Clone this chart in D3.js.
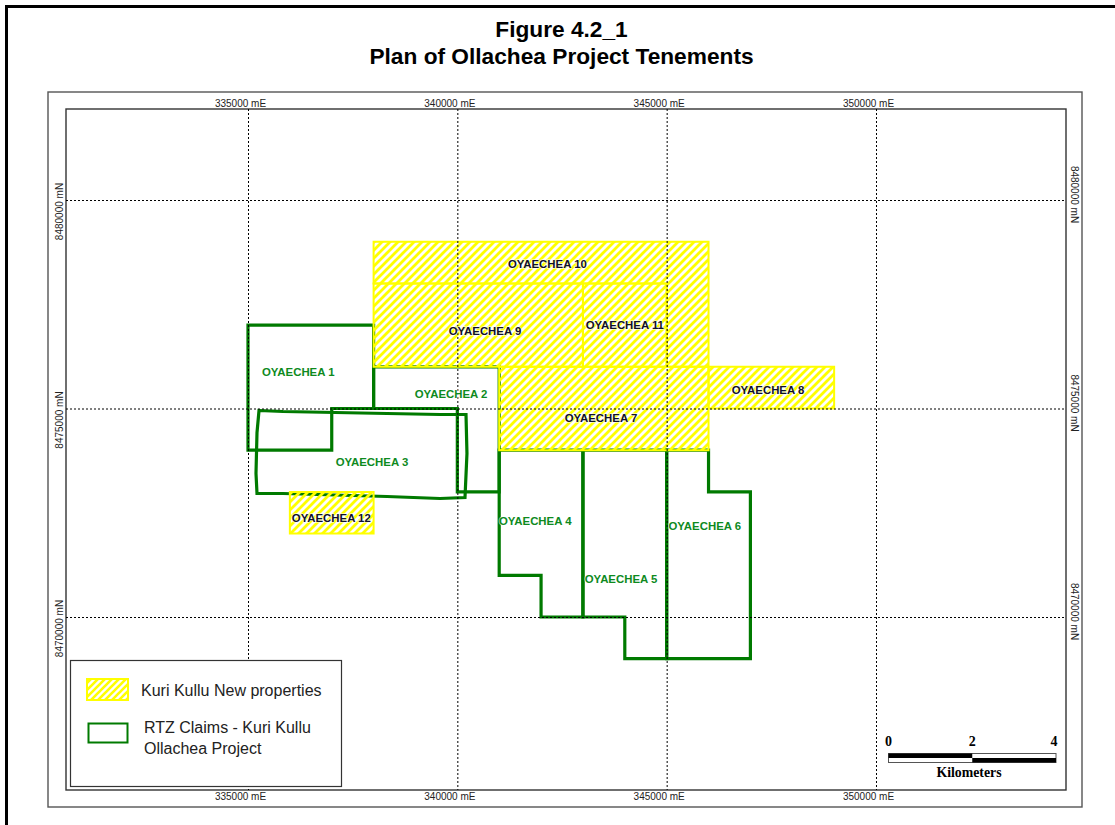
<!DOCTYPE html>
<html><head><meta charset="utf-8">
<script src="https://cdnjs.cloudflare.com/ajax/libs/d3/7.8.5/d3.min.js"></script>
<style>html,body{margin:0;padding:0;background:#fff;overflow:hidden}svg{display:block}</style>
</head><body><svg id="c" width="1115" height="825"></svg>
<script>
const titleLines=["Figure 4.2_1","Plan of Ollachea Project Tenements"];
const eastTicks=[335000,340000,345000,350000];
const northTicks=[8480000,8475000,8470000];
const claimNames=["OYAECHEA 1","OYAECHEA 2","OYAECHEA 3","OYAECHEA 4","OYAECHEA 5","OYAECHEA 6"];
const claimRings=[
 [[335000,8477000],[338000,8477000],[338000,8475000],[337000,8475000],[337000,8474000],[335000,8474000]],
 [[338000,8476000],[341000,8476000],[341000,8473000],[340000,8473000],[340000,8475000],[338000,8475000]],
 [[335263,8474952],[335836,8474928],[338320,8474880],[339586,8474856],[340207,8474856],[340230,8473921],[340183,8472866],[339586,8472842],[338320,8472890],[335836,8472962],[335215,8472962],[335191,8473441],[335215,8474424]],
 [[341000,8474000],[343000,8474000],[343000,8470000],[342000,8470000],[342000,8471000],[341000,8471000]],
 [[343000,8474000],[345000,8474000],[345000,8469000],[344000,8469000],[344000,8470000],[343000,8470000]],
 [[345000,8474000],[346000,8474000],[346000,8473000],[347000,8473000],[347000,8469000],[345000,8469000]]
];
const claimLabelE=[336200,339850,337960,341860,343910,345910];
const claimLabelN=[8475885,8475340,8473710,8472290,8470920,8472190];
const newNames=["OYAECHEA 7","OYAECHEA 8","OYAECHEA 9","OYAECHEA 10","OYAECHEA 11","OYAECHEA 12"];
const newRings=[
 [[341000,8476000],[346000,8476000],[346000,8474000],[341000,8474000]],
 [[346000,8476000],[349000,8476000],[349000,8475000],[346000,8475000]],
 [[338000,8478000],[343000,8478000],[343000,8476000],[338000,8476000]],
 [[338000,8479000],[346000,8479000],[346000,8476000],[345000,8476000],[345000,8478000],[338000,8478000]],
 [[343000,8478000],[345000,8478000],[345000,8476000],[343000,8476000]],
 [[336000,8473000],[338000,8473000],[338000,8472000],[336000,8472000]]
];
const newLabelE=[343430,347420,340660,342150,344000,336990];
const newLabelN=[8474770,8475455,8476860,8478470,8477000,8472380];
const legendLabels=["Kuri Kullu New properties","RTZ Claims - Kuri Kullu","Ollachea Project"];
const scaleLabels=["0","2","4"];
const scaleKm=[0,2,4];

const GREEN="#007a00",YEL="#ffff00";
const svg=d3.select("#c");
const x=d3.scaleLinear().domain([335000,350000]).range([248,876]);
const y=d3.scaleLinear().domain([8480000,8470000]).range([200,617]);
const line=d3.line().x(d=>x(d[0])).y(d=>y(d[1])).curve(d3.curveLinearClosed);

const defs=svg.append("defs");
const pat=defs.append("pattern").attr("id","hatch").attr("patternUnits","userSpaceOnUse")
 .attr("width",8).attr("height",8);
pat.append("path").attr("d","M-2,2 L2,-2 M-2,10 L10,-2 M6,10 L10,6").attr("stroke",YEL).attr("stroke-width",2.8).attr("fill","none");
const pat2=defs.append("pattern").attr("id","hatchL").attr("patternUnits","userSpaceOnUse")
 .attr("width",7).attr("height",7);
pat2.append("path").attr("d","M-2,2 L2,-2 M-2,9 L9,-2 M5,9 L9,5").attr("stroke",YEL).attr("stroke-width",2.6).attr("fill","none");

svg.append("path").attr("d","M6.5,825V6.5H1115").attr("fill","none").attr("stroke","#000").attr("stroke-width",3);
svg.append("rect").attr("x",48).attr("y",92).attr("width",1034).attr("height",715).attr("fill","#fff").attr("stroke","#555").attr("stroke-width",1.4);
svg.append("rect").attr("x",66).attr("y",109).attr("width",1000).attr("height",681).attr("fill","#fff").attr("stroke","#333").attr("stroke-width",1.4);

const L=66,R=1066,T=109,B=790;
const fmtE=d=>d+" mE",fmtN=d=>d+" mN";
function grid(g){g.select(".domain").remove();g.selectAll("line").attr("stroke","#000").attr("stroke-dasharray","2,2");}
function st(sel){return sel.attr("font-family","'Liberation Sans',Arial,sans-serif").attr("font-size","10px").attr("fill","#222");}

const gx=svg.append("g").attr("transform",`translate(0,${T})`).call(d3.axisTop(x).tickValues(eastTicks).tickFormat(fmtE).tickSize(0));
gx.select(".domain").remove();st(gx.selectAll("text")).attr("dx",-8).attr("y",-2);
const gxb=svg.append("g").attr("transform",`translate(0,${B})`).call(d3.axisBottom(x).tickValues(eastTicks).tickFormat(fmtE).tickSize(0));
gxb.select(".domain").remove();st(gxb.selectAll("text")).attr("dx",-8).attr("y",3);
const gy=svg.append("g").attr("transform",`translate(${L},0)`).call(d3.axisLeft(y).tickValues(northTicks).tickFormat(fmtN).tickSize(0));
gy.select(".domain").remove();
st(gy.selectAll("text")).attr("x",0).attr("dy",0).attr("text-anchor","middle")
 .attr("transform","translate(-3,11) rotate(-90)");
const gyr=svg.append("g").attr("transform",`translate(${R},0)`).call(d3.axisRight(y).tickValues(northTicks).tickFormat(fmtN).tickSize(0));
gyr.select(".domain").remove();
st(gyr.selectAll("text")).attr("x",0).attr("dy",0).attr("text-anchor","middle")
 .attr("transform","translate(5,-6) rotate(90)");

svg.append("g").selectAll("path").data(claimRings).join("path").attr("d",line)
 .attr("fill","none").attr("stroke",GREEN).attr("stroke-width",3.2).attr("stroke-linejoin","miter");
svg.append("g").selectAll("path").data(newRings).join("path").attr("d",line)
 .attr("fill","url(#hatch)").attr("stroke",YEL).attr("stroke-width",2);

const gt=svg.append("g").attr("transform",`translate(0,${T})`).call(d3.axisTop(x).tickValues(eastTicks).tickFormat("").tickSize(-(B-T)));
grid(gt);
const gt2=svg.append("g").attr("transform",`translate(${L},0)`).call(d3.axisLeft(y).tickValues(northTicks).tickFormat("").tickSize(-(R-L)));
grid(gt2);

function labels(names,es,ns,col,halo){
 svg.append("g").selectAll("text").data(names).join("text")
  .attr("x",(d,i)=>x(es[i])).attr("y",(d,i)=>y(ns[i])).attr("text-anchor","middle").attr("dy","0.35em")
  .attr("font-family","'Liberation Sans',Arial,sans-serif").attr("font-weight","bold").attr("font-size","11.4px")
  .attr("fill",col).attr("stroke",halo).attr("stroke-width",1.5).attr("paint-order","stroke").attr("stroke-opacity",0.7).text(d=>d);
}
labels(claimNames,claimLabelE,claimLabelN,"#0e8a1e","#fff");
labels(newNames,newLabelE,newLabelN,"#10102a","#fff");

svg.append("g").selectAll("text").data(titleLines).join("text").attr("x",561.5).attr("y",(d,i)=>36.5+i*27)
 .attr("text-anchor","middle").attr("font-family","'Liberation Sans',Arial,sans-serif").attr("font-weight","bold").attr("font-size","22.7px").attr("fill","#000").text(d=>d);

const lg=svg.append("g");
lg.append("rect").attr("x",70.5).attr("y",660.5).attr("width",271).attr("height",126).attr("fill","#fff").attr("stroke","#333").attr("stroke-width",1.2);
lg.append("rect").attr("x",87).attr("y",679).attr("width",41).attr("height",21).attr("fill","url(#hatchL)").attr("stroke",YEL).attr("stroke-width",2);
lg.append("rect").attr("x",88.5).attr("y",723.5).attr("width",39).attr("height",19).attr("fill","#fff").attr("stroke",GREEN).attr("stroke-width",2);
lg.selectAll("text").data(legendLabels).join("text").attr("x",(d,i)=>i?144:141).attr("y",(d,i)=>[696,733,754][i])
 .attr("font-family","'Liberation Sans',Arial,sans-serif").attr("font-size","16px").attr("fill","#222").text(d=>d);

const km=d3.scaleLinear().domain([0,4]).range([888.5,1056]);
const sb=svg.append("g");
sb.append("rect").attr("x",km(0)).attr("y",753.5).attr("width",km(4)-km(0)).attr("height",9).attr("fill","#fff").attr("stroke","#555");
sb.append("rect").attr("x",km(0)).attr("y",753.5).attr("width",km(2)-km(0)).attr("height",4.5).attr("fill","#000");
sb.append("rect").attr("x",km(2)).attr("y",758).attr("width",km(4)-km(2)).attr("height",4.5).attr("fill","#000");
sb.selectAll("text.n").data(scaleLabels).join("text").attr("class","n").attr("x",(d,i)=>km(scaleKm[i])-(i==2?2:0)).attr("y",746).attr("text-anchor","middle")
 .attr("font-family","'Liberation Serif',serif").attr("font-weight","bold").attr("font-size","14px").text(d=>d);
sb.append("text").attr("x",969).attr("y",777).attr("text-anchor","middle").attr("font-family","'Liberation Serif',serif").attr("font-weight","bold").attr("font-size","13.8px").text("Kilometers");
</script></body></html>
